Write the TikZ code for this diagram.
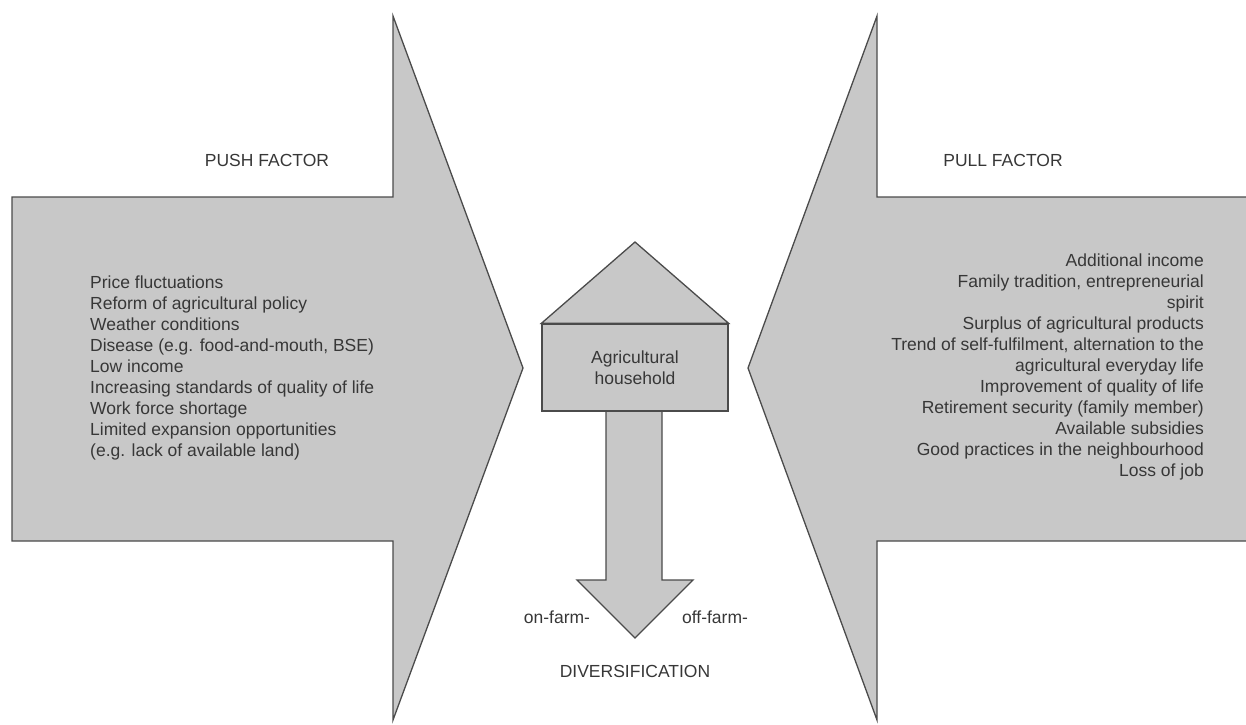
\documentclass[tikz,border=0pt]{standalone}
\usepackage{fontspec}
\setmainfont{Liberation Sans}
\usetikzlibrary{positioning, calc}

\definecolor{shapegray}{RGB}{200,200,200}
\definecolor{edgegray}{RGB}{75,75,75}
\definecolor{textgray}{RGB}{55,55,55}

\begin{document}
\begin{tikzpicture}[x=1pt, y=-1pt,
    % shared styles
    bigarrow/.style={fill=shapegray, draw=edgegray, line width=1.3pt, line join=miter},
    housebox/.style={rectangle, draw=edgegray, fill=shapegray, line width=1.3pt, minimum width=186pt, minimum height=87pt, align=center, inner sep=0pt, text=textgray, font=\fontsize{17.5}{21}\selectfont},
    factor/.style={inner sep=0pt, text=textgray, font=\fontsize{17.5}{21}\selectfont},
    factorlist/.style={factor, align=left}
]
\useasboundingbox (0,0) rectangle (1246,724);

% ====================
% push arrow (left)
% ====================
\fill[shapegray] (12,197) -- (393,197) -- (393,16) -- (523,368) -- (393,720) -- (393,541) -- (12,541) -- cycle;
\draw[bigarrow, fill=none] (12,197) -- (393,197) -- (393,16) -- (523,368) -- (393,720) -- (393,541) -- (12,541) -- cycle;

\node[factor] (pushtitle) at (267,160) {PUSH FACTOR};
\node[factorlist, anchor=west] (pushlist) at (90,368) {Price fluctuations\\
    Reform of agricultural policy\\
    Weather conditions\\
    Disease (e.g. food-and-mouth, BSE)\\
    Low income\\
    Increasing standards of quality of life\\
    Work force shortage\\
    Limited expansion opportunities\\
    (e.g. lack of available land)};

% ====================
% pull arrow (right)
% ====================
\fill[shapegray] (1246,197) -- (877,197) -- (877,16) -- (748,368) -- (877,720) -- (877,541) -- (1246,541) -- cycle;
\draw[bigarrow, fill=none] (1246,197) -- (877,197) -- (877,16) -- (748,368) -- (877,720) -- (877,541) -- (1246,541);

\node[factor] (pulltitle) at (1003,160) {PULL FACTOR};
\node[factorlist, align=right, anchor=east] (pulllist) at (1204,367) {Additional income\\
    Family tradition, entrepreneurial\\
    spirit\\
    Surplus of agricultural products\\
    Trend of self-fulfilment, alternation to the\\
    agricultural everyday life\\
    Improvement of quality of life\\
    Retirement security (family member)\\
    Available subsidies\\
    Good practices in the neighbourhood\\
    Loss of job};

% ====================
% household and diversification
% ====================
\coordinate (roof) at (635,242);
\coordinate (tipD) at (635,638);

\draw[bigarrow] (606,400) -- (606,580) -- (577,580) -- (tipD) -- (693,580) -- (662,580) -- (662,400);
\node[housebox] (house) at (635,367.5) {Agricultural\\household};
\draw[bigarrow] (house.north west) -- (roof) -- (house.north east) -- cycle;

\node[factor] (onfarm) at (557,617) {on-farm-};
\node[factor] (offfarm) at (715,617) {off-farm-};
\node[factor, below=27pt of tipD] (divers) {DIVERSIFICATION};

\end{tikzpicture}
\end{document}
